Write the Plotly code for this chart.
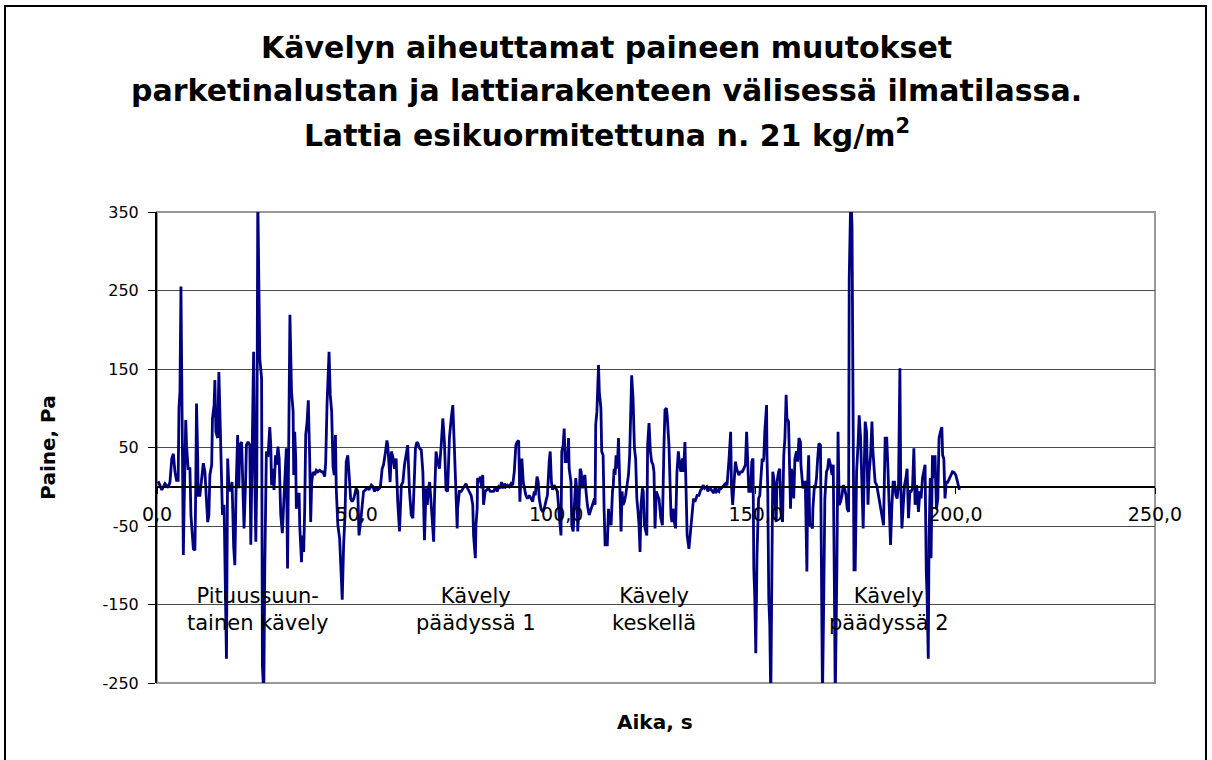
import plotly.graph_objects as go

# Time (s) and pressure (Pa), in consecutive pieces
time_a = [0.3,1.2,2.0,2.8,3.25,3.7,4.1,4.5,4.9,5.3,5.5,5.75,6.0,6.2,6.3,6.6,6.8,7.2,7.4,7.8,8.25,8.5,9.1,9.5,9.7,9.9,10.2,10.3,10.75,11.2,11.6,12.0,12.4,12.7,13.0,13.25,13.7,13.9,14.3,14.5,14.75,15.2,15.5,15.75,16.2,16.4,16.8,17.0,17.25,17.4,17.7,18.0,18.4,18.8,19.2,19.5,19.8,20.2,20.5,20.75,21.2,21.6,21.8,22.2,22.4,22.8,23.25,23.5,23.7,23.9,24.2,24.5,24.75,25.0,25.25,25.75,26.2,26.4,26.75,27.0,27.2,27.4,27.8,28.25,28.5,28.7,29.1,29.3,29.7,29.9,30.3,30.6,31.0,31.4,31.8,32.25,32.4,32.7,33.0,33.3]
pres_a = [7,-4,4,-1,6,36,42,19,8,8,100,121,255,130,-11,-87,-23,85,53,23,23,-36,-79,-81,-6,106,36,-11,-11,15,30,19,-11,-45,-36,15,28,87,104,136,70,62,146,96,11,-36,-23,-102,-130,-219,36,2,-6,6,-76,-100,-6,66,-2,53,57,-40,-53,6,53,57,53,-74,-6,32,172,11,-70,11,370,163,138,-227,-265,-104,11,45,38,76,53,2,23,-4,40,28,51,36,-36,-59,-15,45,49,-104,53,219]

time_b = [33.7,34.1,34.25,34.5,34.75,34.9,35.3,35.6,35.75,36.2,36.4,36.75,37.0,37.25,37.6,37.9,38.25,38.5,38.75,39.1,39.5,39.9,40.3,40.75,41.2,41.6,42.0,42.25,42.6,43.1,43.4,43.75,44.1,44.4,44.7,44.9,45.3,45.75,46.0,46.4,46.75,47.1,47.4,47.8,48.25,48.5,48.9,49.3,49.7,49.9,50.3,50.6,51.0,51.4,51.75,52.25,52.6,53.1,53.7,54.1,54.5,54.9,55.3,55.75,56.0,56.4,56.75,57.25,57.6,57.8,58.1,58.4,58.7,59.1,59.5,59.9,60.3,60.75,61.2,61.6,62.0,62.4,62.8,63.25,63.7,64.1,64.3,64.75,65.1,65.4,65.75,66.2,66.6,67.0,67.4]
pres_b = [121,96,15,70,36,-28,-11,-8,-49,-96,-62,-83,-28,66,83,110,36,-45,6,19,15,21,19,21,19,19,13,30,106,172,117,96,25,15,66,-2,-49,-66,-96,-144,-74,-36,32,40,6,-15,-19,-15,-6,-2,-6,-62,-45,-23,-6,-4,0,-4,2,0,-6,-2,-4,-2,2,23,28,45,59,53,23,6,45,38,23,36,-19,-57,2,6,28,42,53,-6,-36,-40,-2,49,57,55,49,47,19,-68,-2]

time_c = [67.7,68.0,68.3,68.7,69.1,69.3,69.5,69.9,70.3,70.75,71.2,71.6,72.0,72.4,72.8,73.25,73.7,74.1,74.5,74.9,75.2,75.3,75.75,76.2,76.6,77.0,77.4,77.8,78.25,78.7,79.1,79.3,79.75,79.9,80.2,80.3,80.75,81.0,81.3,81.6,81.8,82.2,82.6,83.0,83.5,83.9,84.3,84.75,85.2,85.6,86.0,86.3,86.75,87.1,87.4,87.8,88.25,88.7,89.1,89.5,89.9,90.2,90.6,90.9,91.2,91.4,91.75,92.0,92.4,92.8,93.25,93.7,94.1,94.5,94.75,95.2,95.5,95.75,96.2,96.6,97.0,97.4,97.8,98.25,98.5,98.8,99.1,99.5,99.9,100.3,100.75]
pres_c = [-23,-2,6,-23,-49,-70,-19,45,32,23,53,87,57,-4,-6,62,87,104,49,-19,-53,-28,-6,-6,-2,2,4,-2,-6,-11,-23,-62,-91,-49,-28,11,6,13,-2,15,-23,-6,-4,-2,-6,-6,-6,-1,-6,0,-2,6,-2,4,0,2,0,4,2,19,53,57,59,-19,19,36,6,-2,-11,-15,-11,-15,-19,-6,-11,13,6,-15,-28,-32,-28,-19,-11,32,45,6,-4,2,-2,-6,-36]

time_d = [101.2,101.4,101.75,102.0,102.25,102.6,102.8,103.1,103.25,103.7,103.9,104.25,104.6,104.75,104.9,105.2,105.4,105.75,106.0,106.25,106.6,106.9,107.2,107.4,107.8,108.25,108.7,109.1,109.3,109.6,109.75,109.9,110.2,110.6,110.8,111.2,111.4,111.75,112.0,112.25,112.8,113.1,113.25,113.5,113.75,114.1,114.3,114.5,114.75,115.0,115.3,115.6,115.8,116.0,116.25,116.5,116.75,117.1,117.4,117.75,118.1,118.4,118.7,118.9,119.25,119.6,119.9,120.2,120.5,120.75,121.0,121.25,121.6,121.8,122.1,122.4,122.7,122.9,123.25,123.6,123.9,124.25,124.5,124.75,125.1,125.4,125.75,126.2,126.6,127.0,127.25,127.6,127.8,128.25,128.5,128.75,129.0,129.25,129.6,129.9,130.25,130.6,130.9,131.25,131.6,131.9,132.25,132.6,132.8,133.25,133.7,134.1,134.4,134.75]
pres_d = [-62,45,53,74,32,32,36,62,23,6,-49,-57,-19,2,11,-6,-57,-19,23,19,-2,11,15,-2,-23,-36,-28,-23,-19,-15,-23,79,96,155,121,100,45,40,-28,-74,-74,-28,-40,-45,-49,-6,2,23,15,40,23,62,36,-11,-57,-6,-23,-19,-11,2,15,40,96,142,113,49,36,-15,-32,-49,-83,-23,-2,-6,-49,-57,-62,53,81,45,32,28,19,-53,-6,-11,-15,-40,-49,53,98,100,91,53,-6,-36,-45,-28,-45,-53,19,45,28,19,36,19,57,-6,-62,-79,-57,-36,-15,-19]

time_e = [135.3,135.75,136.2,136.6,136.8,137.2,137.7,138.0,138.3,138.7,139.1,139.5,139.75,140.0,140.3,140.75,141.0,141.3,141.7,142.0,142.4,142.8,143.1,143.3,143.7,143.9,144.2,144.5,144.9,145.2,145.5,145.75,146.2,146.6,147.0,147.4,147.7,148.0,148.25,148.7,149.0,149.3,149.5,149.75,150.0,150.3,150.7,151.0,151.3,151.6,151.8,152.0,152.25,152.7,152.8,153.0,153.25,153.5,153.75,154.0,154.25,154.5,154.75,155.1,155.3,155.7,156.0,156.3,156.7,157.0,157.3,157.6,157.8,158.2,158.5,158.7,158.9,159.25,159.5,159.8,160.2,160.5,160.8,161.2,161.3,161.6,161.8,162.2,162.4,162.8,163.0,163.25,163.5,163.8,164.2,164.3,164.7,164.9,165.2,165.5,165.8,166.2,166.4,166.7,167.0,167.3,167.7,168.0,168.3]
pres_e = [-11,-11,-4,-2,2,-2,0,-6,-2,-3,-6,-8,-2,-8,-4,-6,0,-2,0,2,4,2,19,36,70,2,-23,2,32,23,19,15,19,19,23,28,70,32,-6,-6,32,36,-104,-142,-212,-87,-15,-11,23,36,32,36,70,104,40,-6,-142,-176,-270,-87,19,11,-6,-45,6,19,23,-32,-45,40,62,117,87,83,11,-28,23,11,-15,36,45,32,62,57,28,2,-2,6,6,-108,6,40,-49,-49,-53,-28,2,-2,11,36,55,53,-66,-270,-151,-15,19,23,36]

time_f = [168.7,169.1,169.4,169.7,169.9,170.3,170.6,170.9,171.25,171.6,171.9,172.25,172.6,172.9,173.25,173.4,173.8,174.1,174.6,174.9,175.25,175.6,175.9,176.25,176.6,176.9,177.2,177.4,177.75,178.1,178.4,178.75,179.1,179.3,179.7,179.9,180.3,180.75,181.2,181.6,182.0,182.4,182.8,183.1,183.4,183.75,184.1,184.4,184.75,185.1,185.4,185.75,186.1,186.3,186.6,186.9,187.25,187.6,187.9,188.25,188.6,188.9,189.25,189.6,189.9,190.3,190.75,191.1,191.4,191.75,192.1,192.4,192.7,192.9,193.2,193.4,193.7,193.9,194.25,194.6,194.9,195.25,195.6,195.9,196.25,196.6,196.8,197.1,197.4,197.7,198.1,198.5,198.9,199.25,199.7,200.1,200.3,200.75,201.0]
pres_f = [28,15,28,-134,-270,-108,70,-23,-19,-11,2,-2,-11,-28,-32,265,375,333,-106,-106,19,53,91,62,2,-53,32,83,70,-23,19,40,83,49,19,6,2,-11,-23,-40,-49,62,62,23,-15,-74,-23,6,6,-11,-15,2,151,6,-53,-23,2,11,23,-40,-6,-6,-2,49,-23,2,-32,-6,-15,11,19,28,-108,-138,-219,-66,11,-91,40,11,40,-28,-15,62,70,76,40,36,-15,6,6,11,16,19,18,15,11,2,-4]

x_ticks = [0, 50, 100, 150, 200, 250]
x_tick_text = ["0,0", "50,0", "100,0", "150,0", "200,0", "250,0"]
y_ticks = [-250, -150, -50, 50, 150, 250, 350]
y_tick_text = ["-250", "-150", "-50", "50", "150", "250", "350"]

phase_labels = ["Pituussuun-<br>tainen kävely", "Kävely<br>päädyssä 1", "Kävely<br>keskellä", "Kävely<br>päädyssä 2"]
phase_x = [25.25, 80.0, 124.5, 183.25]
phase_y = [-156, -156, -156, -156]

title_lines = [
    "Kävelyn aiheuttamat paineen muutokset",
    "parketinalustan ja lattiarakenteen välisessä ilmatilassa.",
    "Lattia esikuormitettuna n. 21 kg/m<sup>2</sup>",
]

time = time_a + time_b + time_c + time_d + time_e + time_f
pres = pres_a + pres_b + pres_c + pres_d + pres_e + pres_f
assert len(time) == len(pres)

FONT = "DejaVu Sans"
fig = go.Figure()
fig.add_trace(go.Scatter(x=time, y=pres, mode="lines",
                         line=dict(color="#000080", width=2.8),
                         showlegend=False, hoverinfo="skip"))

ymin, ymax = -250, 350
zero_frac = (0 - ymin) / (ymax - ymin)

fig.update_layout(
    width=1212, height=760,
    margin=dict(l=157, r=57, t=212, b=77, autoexpand=False),
    paper_bgcolor="white", plot_bgcolor="white",
    font=dict(family=FONT, color="black"),
    xaxis=dict(range=[0, 250], tickvals=x_ticks, ticktext=x_tick_text,
               anchor="free", position=zero_frac, automargin=False,
               showline=True, linecolor="black", linewidth=1.5,
               ticks="outside", ticklen=6, tickcolor="black",
               showgrid=False, zeroline=False,
               tickfont=dict(family=FONT, size=19, color="black"),
               ticklabelstandoff=5),
    yaxis=dict(range=[ymin, ymax], tickvals=y_ticks, ticktext=y_tick_text,
               automargin=False,
               showline=True, linecolor="black", linewidth=2,
               ticks="outside", ticklen=7, tickcolor="black",
               showgrid=True, gridcolor="#4a4a4a", gridwidth=1,
               zeroline=False,
               tickfont=dict(family=FONT, size=16, color="black"),
               ticklabelstandoff=6),
)

# plot-area border (grey) and outer chart frame (black)
fig.add_shape(type="rect", xref="paper", yref="paper", x0=0, x1=1, y0=0, y1=1,
              line=dict(color="#999999", width=2), layer="below")
fig.add_shape(type="rect", xref="paper", yref="paper",
              x0=-0.1523, x1=1.0511, y0=-0.1700, y1=1.4374,
              line=dict(color="black", width=2))

title_y = [1.3503, 1.2590, 1.1677]
for txt, yy in zip(title_lines, title_y):
    fig.add_annotation(text="<b>" + txt + "</b>", xref="paper", yref="paper",
                       x=0.4509, y=yy, xanchor="center", yanchor="middle",
                       showarrow=False, font=dict(family=FONT, size=30, color="black"))

for txt, xx, yy in zip(phase_labels, phase_x, phase_y):
    fig.add_annotation(text=txt, x=xx, y=yy, xref="x", yref="y",
                       xanchor="center", yanchor="middle", showarrow=False,
                       font=dict(family=FONT, size=21, color="black"))

fig.add_annotation(text="<b>Paine, Pa</b>", xref="paper", yref="paper",
                   x=-0.110, y=0.5, textangle=-90, xanchor="center", yanchor="middle",
                   showarrow=False, font=dict(family=FONT, size=20, color="black"))
fig.add_annotation(text="<b>Aika, s</b>", xref="paper", yref="paper",
                   x=0.499, y=-0.0828, xanchor="center", yanchor="middle",
                   showarrow=False, font=dict(family=FONT, size=20, color="black"))

fig.write_html("out.html", config={"displayModeBar": False},
               post_script="document.body.style.margin='0';document.body.style.overflow='hidden';")
